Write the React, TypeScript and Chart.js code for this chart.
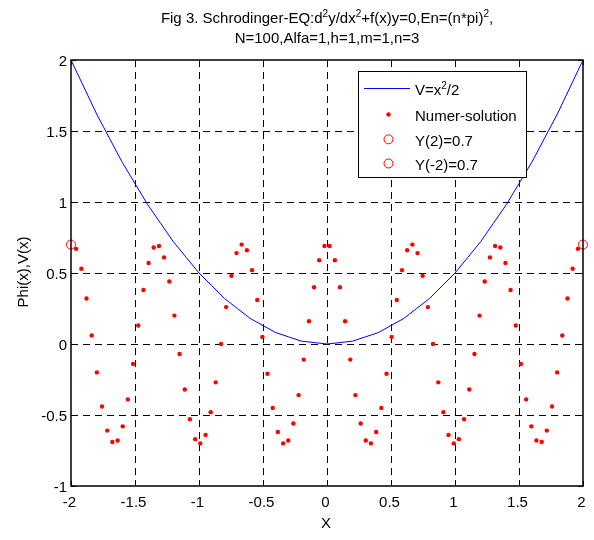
import { useEffect, useRef } from "react";
import { Chart, registerables } from "chart.js";

Chart.register(...registerables);

const FONT = "'Liberation Sans', Arial, Helvetica, sans-serif";
const FONT_SIZE = 15;
const SUP_SIZE = 10;

// Numerical solution sample points (interior of linspace(-2,2,100))
const solutionX = [
  -1.96, -1.919, -1.879, -1.838, -1.798, -1.758, -1.717, -1.677, -1.636, -1.596,
  -1.556, -1.515, -1.475, -1.434, -1.394, -1.354, -1.313, -1.273, -1.232, -1.192,
  -1.152, -1.111, -1.071, -1.03, -0.99, -0.949, -0.909, -0.869, -0.828, -0.788,
  -0.747, -0.707, -0.667, -0.626, -0.586, -0.545, -0.505, -0.465, -0.424, -0.384,
  -0.343, -0.303, -0.263, -0.222, -0.182, -0.141, -0.101, -0.061, -0.02,
  0.02, 0.061, 0.101, 0.141, 0.182, 0.222, 0.263, 0.303, 0.343, 0.384,
  0.424, 0.465, 0.505, 0.545, 0.586, 0.626, 0.667, 0.707, 0.747, 0.788,
  0.828, 0.869, 0.909, 0.949, 0.99, 1.03, 1.071, 1.111, 1.152, 1.192,
  1.232, 1.273, 1.313, 1.354, 1.394, 1.434, 1.475, 1.515, 1.556, 1.596,
  1.636, 1.677, 1.717, 1.758, 1.798, 1.838, 1.879, 1.919, 1.96,
];
const solutionY = [
  0.67, 0.53, 0.32, 0.06, -0.2, -0.44, -0.61, -0.69, -0.68, -0.58,
  -0.39, -0.14, 0.13, 0.38, 0.57, 0.68, 0.69, 0.61, 0.44, 0.2,
  -0.07, -0.32, -0.53, -0.67, -0.7, -0.64, -0.48, -0.27, 0.0, 0.26,
  0.48, 0.64, 0.7, 0.66, 0.52, 0.31, 0.05, -0.21, -0.45, -0.62,
  -0.7, -0.68, -0.56, -0.36, -0.11, 0.16, 0.4, 0.59, 0.69,
  0.69, 0.59, 0.4, 0.16, -0.11, -0.36, -0.56, -0.68, -0.7, -0.62,
  -0.45, -0.21, 0.05, 0.31, 0.52, 0.66, 0.7, 0.64, 0.48, 0.26,
  0.0, -0.27, -0.48, -0.64, -0.7, -0.67, -0.53, -0.32, -0.07, 0.2,
  0.44, 0.61, 0.69, 0.68, 0.57, 0.38, 0.13, -0.14, -0.39, -0.58,
  -0.68, -0.69, -0.61, -0.44, -0.2, 0.06, 0.32, 0.53, 0.67,
];

// Potential curve V(x)
const potentialX = [
  -2, -1.9, -1.8, -1.7, -1.6, -1.5, -1.4, -1.3, -1.2, -1.1, -1.0,
  -0.9, -0.8, -0.7, -0.6, -0.5, -0.4, -0.3, -0.2, -0.1, 0,
  0.1, 0.2, 0.3, 0.4, 0.5, 0.6, 0.7, 0.8, 0.9, 1.0,
  1.1, 1.2, 1.3, 1.4, 1.5, 1.6, 1.7, 1.8, 1.9, 2,
];
const potentialY = [
  2.0, 1.81, 1.62, 1.45, 1.28, 1.13, 0.98, 0.85, 0.72, 0.61, 0.5,
  0.41, 0.32, 0.25, 0.18, 0.13, 0.08, 0.05, 0.02, 0.01, 0.0,
  0.01, 0.02, 0.05, 0.08, 0.13, 0.18, 0.25, 0.32, 0.41, 0.5,
  0.61, 0.72, 0.85, 0.98, 1.13, 1.28, 1.45, 1.62, 1.81, 2.0,
];

// Boundary conditions
const boundaryRightX = [2];
const boundaryRightY = [0.7];
const boundaryLeftX = [-2];
const boundaryLeftY = [0.7];

// Axis ranges / ticks
const xRange = [-2, 2];
const yRange = [-1, 2];
const tickStep = 0.5;

// Texts
type Seg = [string, boolean];
const titleLine1: Seg[] = [
  ["Fig 3. Schrodinger-EQ:d", false],
  ["2", true],
  ["y/dx", false],
  ["2", true],
  ["+f(x)y=0,En=(n*pi)", false],
  ["2", true],
  [",", false],
];
const titleLine2: Seg[] = [["N=100,Alfa=1,h=1,m=1,n=3", false]];
const xAxisTitle = "X";
const yAxisTitle = "Phi(x),V(x)";
const legendLabels: Seg[][] = [
  [["V=x", false], ["2", true], ["/2", false]],
  [["Numer-solution", false]],
  [["Y(2)=0.7", false]],
  [["Y(-2)=0.7", false]],
];

function fmtTick(v: number) {
  return String(Number(v.toFixed(3)));
}

function segWidth(ctx: CanvasRenderingContext2D, segs: Seg[]) {
  let w = 0;
  for (const [t, sup] of segs) {
    ctx.font = `${sup ? SUP_SIZE : FONT_SIZE}px ${FONT}`;
    w += ctx.measureText(t).width;
  }
  return w;
}

function drawSegs(ctx: CanvasRenderingContext2D, segs: Seg[], x: number, baseline: number, align: "left" | "center") {
  let cx = align === "center" ? x - segWidth(ctx, segs) / 2 : x;
  ctx.textAlign = "left";
  ctx.textBaseline = "alphabetic";
  for (const [t, sup] of segs) {
    ctx.font = `${sup ? SUP_SIZE : FONT_SIZE}px ${FONT}`;
    ctx.fillText(t, cx, sup ? baseline - 6 : baseline);
    cx += ctx.measureText(t).width;
  }
}

const decorPlugin = {
  id: "matlabDecor",
  beforeDatasetsDraw(chart: any) {
    const { ctx, chartArea: a, scales } = chart;
    const xs = scales.x;
    const ys = scales.y;
    ctx.save();
    ctx.fillStyle = "#fff";
    ctx.fillRect(a.left, a.top, a.right - a.left, a.bottom - a.top);
    ctx.strokeStyle = "#000";
    ctx.lineWidth = 1;
    ctx.setLineDash([7, 5]);
    for (const t of xs.ticks) {
      const px = Math.round(xs.getPixelForValue(t.value)) + 0.5;
      if (px < a.left + 2 || px > a.right - 2) continue;
      ctx.beginPath();
      ctx.moveTo(px, a.top);
      ctx.lineTo(px, a.bottom);
      ctx.stroke();
    }
    for (const t of ys.ticks) {
      const py = Math.round(ys.getPixelForValue(t.value)) + 0.5;
      if (py < a.top + 2 || py > a.bottom - 2) continue;
      ctx.beginPath();
      ctx.moveTo(a.left, py);
      ctx.lineTo(a.right, py);
      ctx.stroke();
    }
    ctx.setLineDash([]);
    const tl = 5;
    for (const t of xs.ticks) {
      const px = Math.round(xs.getPixelForValue(t.value)) + 0.5;
      ctx.beginPath();
      ctx.moveTo(px, a.bottom);
      ctx.lineTo(px, a.bottom - tl);
      ctx.moveTo(px, a.top);
      ctx.lineTo(px, a.top + tl);
      ctx.stroke();
    }
    for (const t of ys.ticks) {
      const py = Math.round(ys.getPixelForValue(t.value)) + 0.5;
      ctx.beginPath();
      ctx.moveTo(a.left, py);
      ctx.lineTo(a.left + tl, py);
      ctx.moveTo(a.right, py);
      ctx.lineTo(a.right - tl, py);
      ctx.stroke();
    }
    ctx.restore();
  },
  afterDatasetsDraw(chart: any) {
    const { ctx, chartArea: a, scales } = chart;
    const xs = scales.x;
    const ys = scales.y;
    ctx.save();
    // frame
    ctx.strokeStyle = "#000";
    ctx.lineWidth = 1.5;
    ctx.strokeRect(Math.round(a.left), Math.round(a.top), Math.round(a.right - a.left), Math.round(a.bottom - a.top));

    // tick labels
    ctx.fillStyle = "#000";
    ctx.font = `${FONT_SIZE}px ${FONT}`;
    ctx.textAlign = "center";
    ctx.textBaseline = "alphabetic";
    for (const t of xs.ticks) {
      const px = xs.getPixelForValue(t.value);
      ctx.fillText(fmtTick(t.value), px - 1.5, a.bottom + 21);
    }
    ctx.textAlign = "right";
    for (const t of ys.ticks) {
      const py = ys.getPixelForValue(t.value);
      ctx.fillText(fmtTick(t.value), a.left - 4, py + 5.5);
    }

    // axis titles
    ctx.textAlign = "center";
    ctx.fillText(xAxisTitle, (a.left + a.right) / 2 - 1, a.bottom + 42);
    ctx.save();
    ctx.translate(28, (a.top + a.bottom) / 2 - 1);
    ctx.rotate(-Math.PI / 2);
    ctx.textAlign = "center";
    ctx.fillText(yAxisTitle, 0, 0);
    ctx.restore();

    // title
    const cx = (a.left + a.right) / 2;
    drawSegs(ctx, titleLine1, cx, 23, "center");
    drawSegs(ctx, titleLine2, cx, 42.5, "center");

    // legend
    const lx = 358.5, ly = 71.5, lw = 168, lh = 106;
    ctx.fillStyle = "#fff";
    ctx.fillRect(lx, ly, lw, lh);
    ctx.strokeStyle = "#000";
    ctx.lineWidth = 1;
    ctx.strokeRect(lx, ly, lw, lh);
    const rows = [88.5, 114.5, 139.3, 163.5];
    const ds = chart.data.datasets;
    ctx.strokeStyle = ds[0].borderColor;
    ctx.lineWidth = 1;
    ctx.beginPath();
    ctx.moveTo(364, rows[0]);
    ctx.lineTo(410, rows[0]);
    ctx.stroke();
    ctx.fillStyle = ds[1].pointBackgroundColor;
    ctx.beginPath();
    ctx.arc(388.5, rows[1], ds[1].pointRadius, 0, Math.PI * 2);
    ctx.fill();
    for (const r of [2, 3]) {
      ctx.strokeStyle = ds[r].pointBorderColor;
      ctx.lineWidth = 1;
      ctx.beginPath();
      ctx.arc(388.5, rows[r], ds[r].pointRadius, 0, Math.PI * 2);
      ctx.stroke();
    }
    ctx.fillStyle = "#000";
    legendLabels.forEach((segs, i) => drawSegs(ctx, segs, 415, rows[i] + 6.5, "left"));
    ctx.restore();
  },
};

export default function App() {
  const ref = useRef<HTMLCanvasElement | null>(null);
  useEffect(() => {
    if (!ref.current) return;
    const chart = new Chart(ref.current, {
      type: "scatter",
      data: {
        datasets: [
          {
            label: "V=x^2/2",
            data: potentialX.map((x, i) => ({ x, y: potentialY[i] })),
            showLine: true,
            borderColor: "#0000ff",
            backgroundColor: "#0000ff",
            borderWidth: 1,
            pointRadius: 0,
            tension: 0,
          },
          {
            label: "Numer-solution",
            data: solutionX.map((x, i) => ({ x, y: solutionY[i] })),
            showLine: false,
            pointRadius: 2.2,
            pointBackgroundColor: "#ff0000",
            pointBorderColor: "#ff0000",
            pointBorderWidth: 0,
          },
          {
            label: "Y(2)=0.7",
            data: boundaryRightX.map((x, i) => ({ x, y: boundaryRightY[i] })),
            showLine: false,
            pointRadius: 4.5,
            pointBackgroundColor: "rgba(0,0,0,0)",
            pointBorderColor: "#ff0000",
            pointBorderWidth: 1,
            clip: false,
          },
          {
            label: "Y(-2)=0.7",
            data: boundaryLeftX.map((x, i) => ({ x, y: boundaryLeftY[i] })),
            showLine: false,
            pointRadius: 4.5,
            pointBackgroundColor: "rgba(0,0,0,0)",
            pointBorderColor: "#ff0000",
            pointBorderWidth: 1,
            clip: false,
          },
        ],
      } as any,
      options: {
        responsive: false,
        animation: false,
        devicePixelRatio: 1,
        layout: { padding: { top: 60, right: 11, left: 0, bottom: 0 } },
        plugins: {
          legend: { display: false },
          title: { display: false },
          tooltip: { enabled: false },
        },
        scales: {
          x: {
            type: "linear",
            min: xRange[0],
            max: xRange[1],
            ticks: { stepSize: tickStep, display: false },
            grid: { display: false },
            border: { display: false },
            afterFit: (s: any) => {
              s.height = 54;
            },
          },
          y: {
            type: "linear",
            min: yRange[0],
            max: yRange[1],
            ticks: { stepSize: tickStep, display: false },
            grid: { display: false },
            border: { display: false },
            afterFit: (s: any) => {
              s.width = 71;
            },
          },
        },
      } as any,
      plugins: [decorPlugin],
    });
    return () => chart.destroy();
  }, []);
  return (
    <div style={{ position: "absolute", left: 0, top: 0, width: 594, height: 540, background: "#fff" }}>
      <canvas ref={ref} width={594} height={540} style={{ display: "block" }} />
    </div>
  );
}
